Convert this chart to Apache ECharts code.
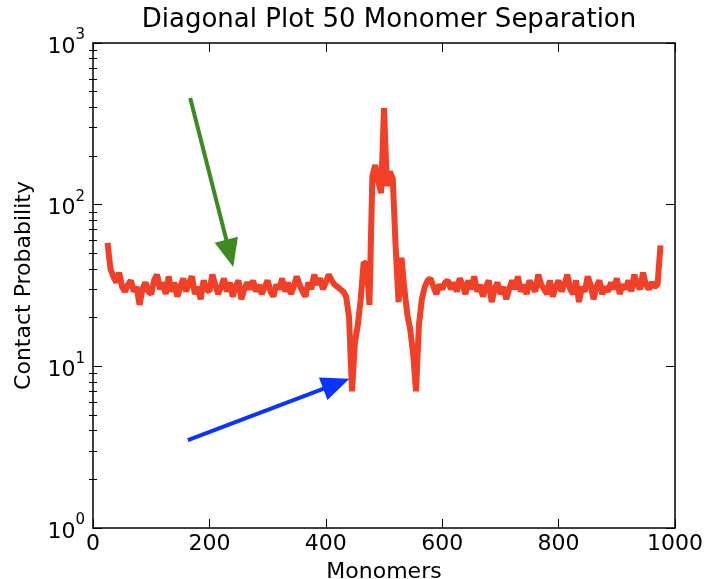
<!DOCTYPE html>
<html>
<head>
<meta charset="utf-8">
<script src="https://cdn.jsdelivr.net/npm/echarts@6/dist/echarts.min.js"></script>
<style>
  html, body { margin: 0; padding: 0; background: #fff; }
  #chart { width: 704px; height: 579px; }
</style>
</head>
<body>
<div id="chart"></div>
<script>
// sampled every 5 monomers, starting at 25
const xStart = 25;
const xStep = 5;
const contact = [
    58, 40, 36, 33, 38, 31, 29, 32, 34, 29, 31, 24, 30, 33, 29, 28, 34, 37, 30, 33,
    28, 36, 29, 33, 27, 31, 35, 29, 33, 36, 28, 31, 26, 34, 30, 29, 37, 32, 28, 31,
    35, 29, 33, 27, 31, 34, 26, 30, 33, 30, 34, 29, 32, 28, 31, 34, 29, 27, 32, 30,
    35, 29, 33, 28, 31, 36, 32, 29, 27, 33, 30, 37, 32, 35, 30, 33, 37,
    // 410 .. 610
    34, 32, 31, 30, 29, 27, 20, 7, 14, 18, 26, 44, 43, 24, 150, 176, 140, 118, 395, 130,
    160, 145, 55, 25, 47, 30, 21, 17, 12, 7, 18, 26, 31, 34, 35, 31, 28, 32, 30, 33, 34,
    // 615 .. 975
    30, 33, 29, 35, 32, 28, 34, 30, 36, 29, 32, 27, 31, 34, 25, 30, 33, 28, 31, 26,
    30, 34, 30, 36, 29, 32, 28, 34, 31, 29, 37, 32, 30, 28, 34, 27, 31, 34, 29, 32,
    37, 30, 28, 34, 25, 31, 29, 36, 32, 26, 31, 34, 28, 31, 29, 33, 30, 35, 28, 32,
    30, 34, 29, 37, 32, 30, 38, 32, 30, 33, 31, 32, 56
];
const xTicks = [0, 200, 400, 600, 800, 1000];
const yTicks = [1, 10, 100, 1000];
const greenArrow = [[167, 457], [235, 50]];
const blueArrow = [[163, 3.5], [418, 7.8]];

const minorY = [];
[1, 10, 100].forEach((d) => {
    for (let k = 2; k <= 9; k++) minorY.push(Math.log10(d * k));
});

const lineData = contact.map((v, i) => [xStart + i * xStep, v]);

const font = 'DejaVu Sans';
const frame = { show: true, onZero: false, lineStyle: { color: '#000', width: 1.5 } };

let chart = echarts.init(document.getElementById('chart'));

const baseY = {
    min: yTicks[0], max: yTicks[yTicks.length - 1], type: 'log', logBase: 10,
    axisLine: frame, splitLine: { show: false },
    axisTick: { show: true, inside: true, length: 9, lineStyle: { color: '#000', width: 1 } }
};
const minorAxis = {
    type: 'value', min: 0, max: 3,
    axisLine: { show: false }, splitLine: { show: false }, axisLabel: { show: false },
    axisTick: { show: true, inside: true, length: 4, customValues: minorY, lineStyle: { color: '#000', width: 1 } }
};

const option = {
    animation: false,
    title: {
        text: 'Diagonal Plot 50 Monomer Separation',
        left: 384, top: 2, textAlign: 'center',
        textStyle: { fontFamily: font, fontSize: 26, fontWeight: 'normal', color: '#000' }
    },
    grid: { left: 93, right: 29, top: 43, bottom: 51, outerBoundsMode: 'none' },
    xAxis: [{
        type: 'value', min: xTicks[0], max: xTicks[xTicks.length - 1], interval: 200, position: 'bottom',
        name: 'Monomers', nameLocation: 'middle', nameGap: 33,
        nameTextStyle: { fontFamily: font, fontSize: 22, color: '#000' },
        axisLine: frame, splitLine: { show: false },
        axisTick: { inside: true, length: 9, lineStyle: { color: '#000' } },
        axisLabel: { fontFamily: font, fontSize: 22, color: '#000', margin: 5, formatter: (v) => String(v) }
    }, {
        type: 'value', min: xTicks[0], max: xTicks[xTicks.length - 1], interval: 200, position: 'top',
        axisLine: frame, splitLine: { show: false },
        axisTick: { inside: true, length: 9, lineStyle: { color: '#000' } },
        axisLabel: { show: false }
    }],
    yAxis: [Object.assign({}, baseY, {
        position: 'left',
        name: 'Contact Probability', nameLocation: 'middle', nameGap: 58,
        nameTextStyle: { fontFamily: font, fontSize: 22, color: '#000' },
        axisLabel: {
            margin: 8,
            formatter: (v) => '{b|10}{s|' + Math.round(Math.log10(v)) + '}',
            rich: {
                b: { fontFamily: font, fontSize: 22, color: '#000', verticalAlign: 'bottom', lineHeight: 30 },
                s: { fontFamily: font, fontSize: 15, color: '#000', verticalAlign: 'top', lineHeight: 30 }
            }
        }
    }), Object.assign({}, baseY, {
        position: 'right', axisLabel: { show: false }
    }), Object.assign({}, minorAxis, { position: 'left' }),
        Object.assign({}, minorAxis, { position: 'right' })],
    series: [{
        type: 'line',
        data: lineData,
        showSymbol: false,
        symbol: 'none',
        lineStyle: { color: '#f04028', width: 6 },
        markLine: {
            silent: true,
            symbol: ['none', 'triangle'],
            symbolSize: [24, 28],
            label: { show: false },
            data: [
                [{ coord: greenArrow[0], lineStyle: { color: '#3d8a23', width: 4, type: 'solid' } },
                 { coord: greenArrow[1] }],
                [{ coord: blueArrow[0], lineStyle: { color: '#0b35ff', width: 4, type: 'solid' } },
                 { coord: blueArrow[1] }]
            ]
        }
    }]
};

option && chart.setOption(option);
window.addEventListener('resize', chart.resize);
</script>
</body>
</html>
